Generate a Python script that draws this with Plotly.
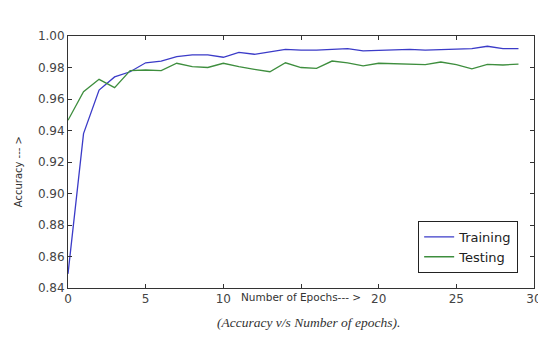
import plotly.graph_objects as go

epochs = list(range(30))
training = [0.849, 0.938, 0.9657, 0.974, 0.9773, 0.983, 0.984, 0.9869, 0.988, 0.988,
            0.9865, 0.9896, 0.9884, 0.990, 0.9915, 0.991, 0.991, 0.9915, 0.992, 0.9905,
            0.9907, 0.991, 0.9915, 0.991, 0.9915, 0.9917, 0.992, 0.9935, 0.992, 0.992]
testing = [0.9465, 0.9646, 0.9725, 0.9672, 0.978, 0.9784, 0.978, 0.9827, 0.9805, 0.980,
           0.9827, 0.9805, 0.9788, 0.9773, 0.983, 0.980, 0.9795, 0.9841, 0.983, 0.981,
           0.9827, 0.9825, 0.982, 0.9818, 0.9835, 0.9818, 0.9792, 0.982, 0.9816, 0.9822]
xticks = [0, 5, 10, 15, 20, 25, 30]
xtick_text = ["0", "5", "10", "", "20", "25", "30"]  # "15" is hidden under the axis title
yticks = [0.84, 0.86, 0.88, 0.90, 0.92, 0.94, 0.96, 0.98, 1.00]
ytick_text = ["0.84", "0.86", "0.88", "0.90", "0.92", "0.94", "0.96", "0.98", "1.00"]

fig = go.Figure()
fig.add_trace(go.Scatter(x=epochs, y=training, mode="lines", name="Training",
                         line=dict(color="#3b3bc8", width=1.3)))
fig.add_trace(go.Scatter(x=epochs, y=testing, mode="lines", name="Testing",
                         line=dict(color="#3e8e3e", width=1.3)))

axis_common = dict(showgrid=False, zeroline=False, showline=True, linecolor="#333333",
                   linewidth=1, mirror="allticks", ticks="inside", ticklen=4,
                   tickcolor="#333333",
                   tickfont=dict(family="DejaVu Sans", size=12, color="#444444"))

fig.update_layout(
    width=546, height=354,
    paper_bgcolor="white", plot_bgcolor="white",
    margin=dict(l=60, r=18, t=28, b=74),
    xaxis=dict(range=[0, 30], tickvals=xticks, ticktext=xtick_text, **axis_common),
    yaxis=dict(range=[0.84, 1.00], tickvals=yticks, ticktext=ytick_text, **axis_common),
    legend=dict(x=0.966, y=0.06, xanchor="right", yanchor="bottom",
                bordercolor="#222222", borderwidth=1, bgcolor="white",
                font=dict(family="DejaVu Sans", size=13, color="#222222"),
                tracegroupgap=0, itemwidth=30),
    showlegend=True,
    annotations=[
        dict(text="Number of Epochs--- >", xref="paper", yref="paper", x=0.5, y=-0.036,
             xanchor="center", yanchor="middle", showarrow=False,
             font=dict(family="DejaVu Sans", size=10.5, color="#333333")),
        dict(text="Accuracy --- >", xref="paper", yref="paper", x=-0.107, y=0.46,
             xanchor="center", yanchor="middle", textangle=-90, showarrow=False,
             font=dict(family="DejaVu Sans", size=10, color="#333333")),
        dict(text="<i>(Accuracy v/s Number of epochs).</i>", xref="paper", yref="paper",
             x=0.517, y=-0.135, xanchor="center", yanchor="middle", showarrow=False,
             font=dict(family="Liberation Serif", size=13.5, color="#333333")),
    ],
)

fig.write_html("out.html")
